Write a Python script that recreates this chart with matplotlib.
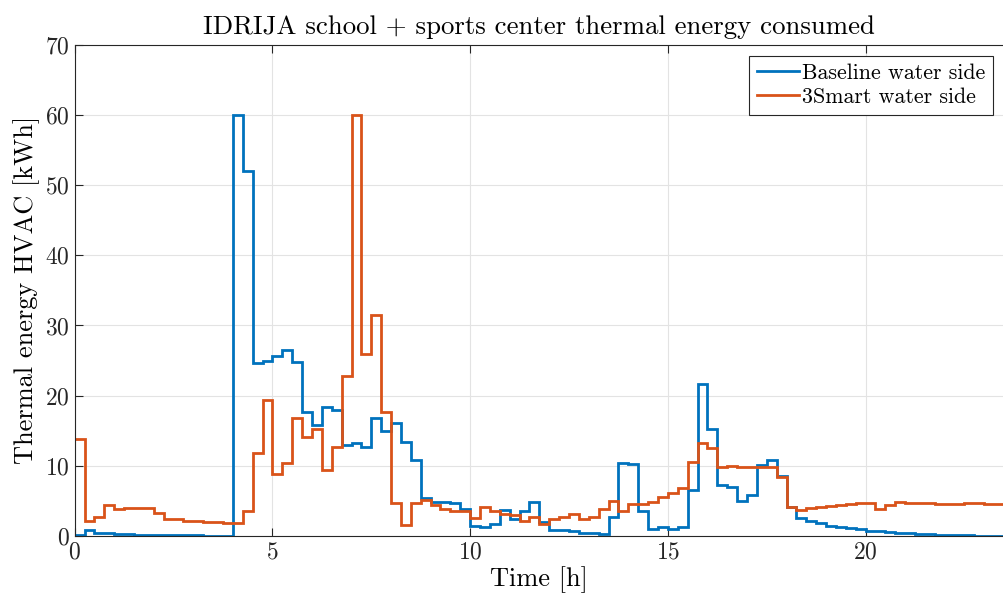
import numpy as np
import matplotlib
matplotlib.use('Agg')
import matplotlib.pyplot as plt

plt.rcParams['font.family'] = ['cmr10', 'DejaVu Serif']
plt.rcParams['mathtext.fontset'] = 'cm'
plt.rcParams['axes.formatter.use_mathtext'] = True

# 15 min energy per step [kWh]
STEP_H = 0.25
baseline = [
    0.2, 0.8, 0.5, 0.5, 0.3, 0.3, 0.2, 0.2, 0.2, 0.1, 0.1, 0.1, 0.1, 0.05, 0.05, 0.05,
    60.0, 52.0, 24.6, 25.0, 25.6, 26.5, 24.8, 17.7, 15.8, 18.4, 18.0, 13.0, 13.2, 12.7, 16.8, 14.9,
    16.1, 13.4, 10.8, 5.4, 4.9, 4.8, 4.7, 3.9, 1.5, 1.3, 1.7, 3.7, 2.4, 3.6, 4.8, 2.0,
    0.85, 0.8, 0.65, 0.5, 0.4, 0.3, 2.7, 10.4, 10.3, 3.5, 1.0, 1.3, 1.0, 1.3, 6.5, 21.7,
    15.2, 7.3, 7.0, 5.0, 5.8, 10.1, 10.9, 8.5, 4.1, 2.5, 2.1, 1.8, 1.5, 1.3, 1.1, 0.95,
    0.75, 0.65, 0.55, 0.45, 0.4, 0.3, 0.25, 0.2, 0.15, 0.1, 0.1, 0.05, 0.05, 0.05,
]
smart = [
    13.8, 2.1, 2.7, 4.4, 3.8, 4.0, 4.0, 4.0, 3.3, 2.4, 2.4, 2.2, 2.1, 2.0, 2.0, 1.9,
    1.8, 3.6, 11.9, 19.4, 8.9, 10.4, 16.8, 14.1, 15.3, 9.4, 12.7, 22.8, 60.0, 26.0, 31.5, 17.7,
    4.7, 1.6, 4.7, 5.2, 4.4, 3.9, 3.6, 3.6, 2.6, 4.1, 3.5, 3.1, 3.0, 2.2, 2.7, 1.7,
    2.4, 2.75, 3.2, 2.4, 2.7, 3.9, 5.0, 3.5, 4.6, 4.5, 4.9, 5.5, 6.2, 6.9, 10.6, 13.3,
    12.5, 9.8, 10.0, 9.8, 9.8, 9.9, 9.9, 8.4, 4.1, 3.7, 4.0, 4.2, 4.3, 4.4, 4.6, 4.7,
    4.7, 3.8, 4.4, 4.8, 4.7, 4.7, 4.65, 4.6, 4.6, 4.6, 4.65, 4.7, 4.6, 4.5,
]
labels = ['Baseline water side', '3Smart water side']
colors = ['#0072BD', '#D95319']

edges = np.arange(len(baseline) + 1) * STEP_H

fig = plt.figure(figsize=(10.04, 6.05), dpi=100)
ax = fig.add_axes([0.0744, 0.114, 0.9256, 0.812])

for vals, lab, col in zip([baseline, smart], labels, colors):
    ax.stairs(vals, edges, baseline=None, color=col, linewidth=2.0, label=lab)

ax.set_xlim(0, edges[-1])
ax.set_ylim(0, 70)
ax.set_xticks([0, 5, 10, 15, 20])
ax.set_yticks(np.arange(0, 71, 10))
ax.grid(True, color='#e3e3e3', linewidth=0.8)
ax.set_axisbelow(True)
ax.tick_params(direction='in', length=6, width=0.8, colors='#262626',
               labelsize=17, top=True, right=False)
for s in ax.spines.values():
    s.set_color('#262626')
    s.set_linewidth(0.8)
ax.spines['right'].set_visible(False)

ax.set_title('IDRIJA school + sports center thermal energy consumed', fontsize=19.3, pad=8)
ax.set_xlabel('Time [h]', fontsize=19, labelpad=2)
ax.set_ylabel('Thermal energy HVAC [kWh]', fontsize=19, labelpad=4)

leg = ax.legend(loc='upper right', fontsize=15.8, frameon=True, fancybox=False,
                edgecolor='#262626', framealpha=1, borderaxespad=0.5,
                handlelength=1.9, handletextpad=0.15, borderpad=0.35, labelspacing=0.2)
leg.get_frame().set_linewidth(0.8)

fig.savefig('out.png', dpi=100)
